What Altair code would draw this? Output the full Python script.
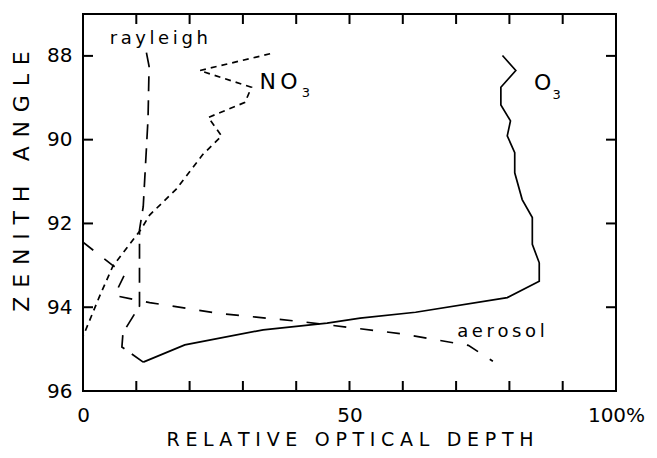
import altair as alt
import pandas as pd

# ---- data ----
o3_x = [78.7, 81.2, 78.4, 78.4, 80.2, 79.6, 81.0, 81.0, 82.4, 84.3, 84.3, 85.6, 85.6, 79.6, 62.4, 52.0, 45.8, 33.8, 19.1, 11.3]
o3_y = [87.99, 88.35, 88.75, 89.17, 89.55, 89.91, 90.31, 90.79, 91.43, 91.86, 92.50, 92.94, 93.38, 93.77, 94.12, 94.26, 94.38, 94.54, 94.90, 95.31]

no3_x = [35.1, 21.9, 31.6, 30.4, 23.5, 26.0, 22.5, 17.5, 12.5, 10.9, 5.6, 3.1, 0.0]
no3_y = [87.95, 88.35, 88.75, 89.11, 89.47, 89.91, 90.35, 91.18, 91.80, 92.14, 93.02, 93.74, 94.70]

ray_x = [11.9, 12.4, 12.2, 11.3, 10.6, 10.6, 7.5, 7.3, 11.3]
ray_y = [87.92, 88.25, 89.50, 91.60, 92.15, 93.97, 94.61, 94.95, 95.31]

aer_x = [0.0, 7.8, 5.9, 12.5, 25.7, 40.7, 59.5, 72.3, 76.9]
aer_y = [92.45, 93.22, 93.72, 93.89, 94.15, 94.34, 94.63, 94.91, 95.29]

x_tick_vals = [10, 20, 30, 40, 50, 60, 70, 80, 90]
y_tick_vals = [88, 90, 92, 94]
x_label_vals = [0, 50, 100]
y_label_vals = [88, 90, 92, 94, 96]

big_x = [33.1, 84.6]
big_y = [88.79, 88.81]
big_t = ["N\u2009O", "O"]
sub_x = [41.05, 88.1]
sub_y = [88.97, 89.03]
sub_t = ["3", "3"]
low_x = [5.0, 70.2]
low_y = [87.71, 94.71]
low_t = ["rayleigh", "aerosol"]

TS = "\u2009"


def spaced(s, sep=TS):
    return sep.join(s)


W, H = 533, 377
FONT = "DejaVu Sans"

xs = alt.Scale(domain=[0, 100], nice=False, zero=False)
ys = alt.Scale(domain=[87, 96], reverse=True, nice=False, zero=False)

x_axis = alt.Axis(
    values=x_label_vals,
    labelExpr="datum.value == 100 ? '100%' : datum.label",
    labelFlush=False,
    ticks=False,
    tickSize=0,
    domain=False,
    grid=False,
    labelFontSize=20,
    labelPadding=30,
    labelBaseline="alphabetic",
    labelColor="black",
    titleFontSize=19,
    titleFontWeight="normal",
    titleColor="black",
    titleBaseline="alphabetic",
    titleY=54,
    titleX=W / 2,
    titleAlign="center",
)
y_axis = alt.Axis(
    values=y_label_vals,
    ticks=False,
    tickSize=0,
    domain=False,
    grid=False,
    labelFontSize=20,
    labelPadding=11,
    labelColor="black",
    titleFontSize=22,
    titleFontWeight="normal",
    titleColor="black",
    titleAngle=270,
    titleBaseline="alphabetic",
    titleAlign="center",
    titleX=-55,
    titleY=167,
)

x_enc = alt.X("x:Q", scale=xs, axis=x_axis, title=spaced("RELATIVE OPTICAL DEPTH", TS + "\u200a"))
y_enc = alt.Y("y:Q", scale=ys, axis=y_axis, title=spaced("ZENITH ANGLE", TS + TS))


def sdf(xv, yv):
    return pd.DataFrame({"x": xv, "y": yv, "i": list(range(len(xv)))})


def line(xv, yv, dash=None):
    kw = dict(color="black", strokeWidth=1.7, clip=True)
    if dash:
        kw["strokeDash"] = dash
    return alt.Chart(sdf(xv, yv)).mark_line(**kw).encode(x=x_enc, y=y_enc, order="i:Q")


layers = [
    line(o3_x, o3_y),
    line(no3_x, no3_y, [6, 5]),
    line(ray_x, ray_y, [15, 9]),
    line(aer_x, aer_y, [13, 14]),
]

xt = pd.DataFrame({"x": x_tick_vals})
yt = pd.DataFrame({"y": y_tick_vals})
layers.append(alt.Chart(xt).mark_rule(color="black", strokeWidth=2).encode(x=x_enc, y=alt.value(0), y2=alt.value(10)))
layers.append(alt.Chart(xt).mark_rule(color="black", strokeWidth=2).encode(x=x_enc, y=alt.value(H), y2=alt.value(H - 10)))
layers.append(alt.Chart(yt).mark_rule(color="black", strokeWidth=2).encode(y=y_enc, x=alt.value(0), x2=alt.value(10)))
layers.append(alt.Chart(yt).mark_rule(color="black", strokeWidth=2).encode(y=y_enc, x=alt.value(W), x2=alt.value(W - 10)))


def text_layer(xv, yv, tv, size):
    df = pd.DataFrame({"x": xv, "y": yv, "t": tv})
    return alt.Chart(df).mark_text(
        align="left", baseline="alphabetic", fontSize=size, font=FONT, color="black"
    ).encode(x=x_enc, y=y_enc, text="t:N")


layers.append(text_layer(big_x, big_y, big_t, 22))
layers.append(text_layer(sub_x, sub_y, sub_t, 13))
layers.append(text_layer(low_x, low_y, [spaced(t) for t in low_t], 18))

chart = (
    alt.layer(*layers)
    .properties(
        width=W,
        height=H,
        autosize=alt.AutoSizeParams(type="none"),
        padding={"left": 75, "top": 6, "right": 33, "bottom": 59},
        background="white",
    )
    .configure(font=FONT)
    .configure_view(stroke="black", strokeWidth=2)
)

chart.save("out.html", embed_options={"renderer": "svg", "actions": False})
